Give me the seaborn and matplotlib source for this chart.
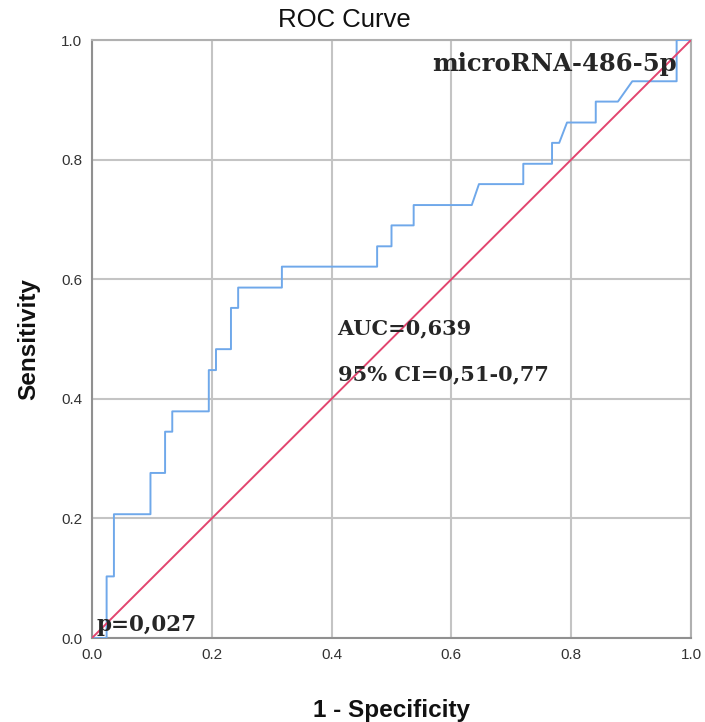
import matplotlib
matplotlib.use("Agg")
import matplotlib.pyplot as plt
import seaborn as sns
import pandas as pd

# ROC curve points (1 - specificity, sensitivity)
fpr = [0.0, 0.0244, 0.0244, 0.0366, 0.0366, 0.0976, 0.0976, 0.122, 0.122, 0.134, 0.134,
       0.195, 0.195, 0.207, 0.207, 0.232, 0.232, 0.244, 0.244, 0.317, 0.317, 0.476, 0.476,
       0.500, 0.500, 0.537, 0.537, 0.634, 0.646, 0.720, 0.720, 0.768, 0.768, 0.780, 0.793,
       0.841, 0.841, 0.878, 0.902, 0.976, 0.976, 1.0]
tpr = [0.0, 0.0, 0.103, 0.103, 0.207, 0.207, 0.276, 0.276, 0.345, 0.345, 0.379,
       0.379, 0.448, 0.448, 0.483, 0.483, 0.552, 0.552, 0.586, 0.586, 0.621, 0.621, 0.655,
       0.655, 0.690, 0.690, 0.724, 0.724, 0.759, 0.759, 0.793, 0.793, 0.828, 0.828, 0.862,
       0.862, 0.897, 0.897, 0.931, 0.931, 1.0, 1.0]
ref_x = [0.0, 1.0]
ref_y = [0.0, 1.0]
ticks = [0.0, 0.2, 0.4, 0.6, 0.8, 1.0]
tick_labels = ["0.0", "0.2", "0.4", "0.6", "0.8", "1.0"]

title = "ROC Curve"
xlabel = "1 - Specificity"
ylabel = "Sensitivity"
annotations = ["microRNA-486-5p", "AUC=0,639", "95% CI=0,51-0,77", "p=0,027"]

sns.set_style("white")
plt.rcParams['font.family'] = ['Liberation Sans', 'DejaVu Sans']

W, H = 705, 722
fig = plt.figure(figsize=(W / 100, H / 100), dpi=100)
ax = fig.add_axes([92/W, 1 - 638/H, (691-92)/W, (638-40)/H])

roc = pd.DataFrame({"fpr": fpr, "tpr": tpr})
ref = pd.DataFrame({"x": ref_x, "y": ref_y})
sns.lineplot(data=roc, x="fpr", y="tpr", sort=False, estimator=None, ax=ax,
             color="#6fa8ea", linewidth=1.4, zorder=3)
sns.lineplot(data=ref, x="x", y="y", sort=False, estimator=None, ax=ax,
             color="#e2456f", linewidth=1.4, zorder=4)

ax.set_xlim(0, 1)
ax.set_ylim(0, 1)
ax.set_xticks(ticks)
ax.set_xticklabels(tick_labels)
ax.set_yticks(ticks)
ax.set_yticklabels(tick_labels)
ax.grid(True, color="#c4c4c4", linewidth=1.5, zorder=0)
ax.set_axisbelow(True)
for s in ax.spines.values():
    s.set_color("#b0b0b0")
    s.set_linewidth(1.5)
ax.spines['left'].set_color("#909090")
ax.spines['bottom'].set_color("#909090")
ax.tick_params(axis='both', length=3, width=1, color="#909090", labelsize=11,
               labelcolor="#333333", pad=4)

# title centred over the figure like the original export
fig.text(344 / W, 1 - 27 / H, title, fontsize=18.5, color="#111111",
         ha='center', va='baseline')
ax.set_xlabel(xlabel, fontsize=17.5, fontweight='bold', labelpad=27, color="#111111")
ax.set_ylabel(ylabel, fontsize=17.5, fontweight='bold', labelpad=15, color="#111111")

serif = ['DejaVu Serif']
ax.text(0.567, 0.948, annotations[0], fontsize=17.5, fontweight='bold', family=serif,
        va='baseline', ha='left', zorder=5)
ax.text(0.41, 0.507, annotations[1], fontsize=15, fontweight='bold', family=serif,
        va='baseline', ha='left', zorder=5)
ax.text(0.41, 0.431, annotations[2], fontsize=15, fontweight='bold', family=serif,
        va='baseline', ha='left', zorder=5)
ax.text(0.008, 0.012, annotations[3], fontsize=15.5, fontweight='bold', family=serif,
        va='baseline', ha='left', zorder=5)

fig.savefig("out.png", dpi=100)
